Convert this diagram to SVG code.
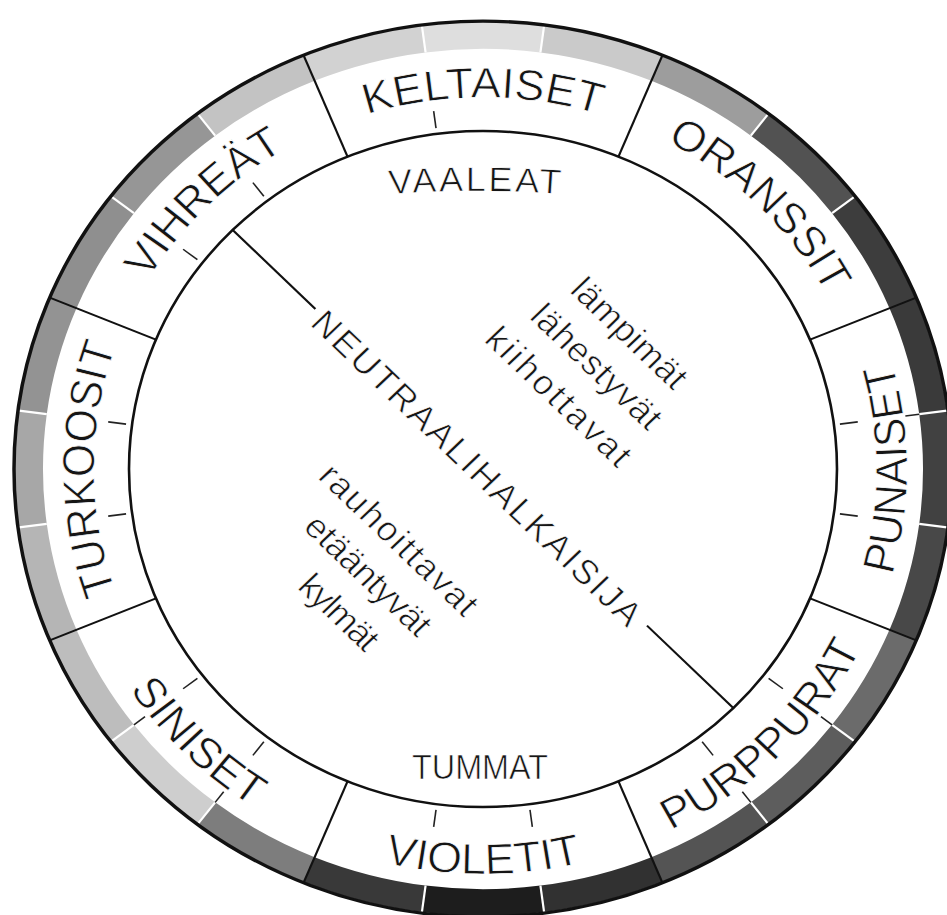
<svg xmlns="http://www.w3.org/2000/svg" width="947" height="915" viewBox="0 0 947 915">
<style>
.seg{fill:none;stroke-width:28}
.gap{stroke:#fff;stroke-width:2.2}
.con{stroke:#111;stroke-width:2.2;fill:none}
.tick{stroke:#222;stroke-width:1.6}
.lbl{font-family:"Liberation Sans",Arial,sans-serif;font-size:45px;fill:#151515;stroke:#fff;stroke-width:0.8px}
.mid{font-family:"Liberation Sans",Arial,sans-serif;font-size:36px;fill:#151515;stroke:#fff;stroke-width:0.7px}
</style>
<defs>
<path id="pKel" d="M-389,0 A389,389 0 0 1 389,0"/>
<path id="pOra" d="M-275.07,-275.07 A389,389 0 0 1 275.07,275.07"/>
<path id="pTur" d="M0,389 A389,389 0 0 1 0,-389"/>
<path id="pVih" d="M-275.07,275.07 A389,389 0 0 1 275.07,-275.07"/>
<path id="pPun" d="M0,424 A424,424 0 0 0 0,-424"/>
<path id="pPur" d="M-299.81,299.81 A424,424 0 0 0 299.81,-299.81"/>
<path id="pVio" d="M-424,0 A424,424 0 0 0 424,0"/>
<path id="pSin" d="M-299.81,-299.81 A424,424 0 0 0 299.81,299.81"/>
<path id="pVaa" d="M-127,-285 Q-7,-297 113,-285"/>
</defs>
<rect width="947" height="915" fill="#fff"/>
<g transform="translate(483,469) scale(1,0.955)">
<g id="sector-keltaiset">
<path class="seg" stroke="#d2d2d2" d="M-173.74,-419.44 A454,454 0 0 1 -59.26,-450.12"/>
<path class="seg" stroke="#dedede" d="M-59.26,-450.12 A454,454 0 0 1 59.26,-450.12"/>
<path class="seg" stroke="#cacaca" d="M59.26,-450.12 A454,454 0 0 1 173.74,-419.44"/>
<line class="gap" x1="-57.43" y1="-436.24" x2="-61.09" y2="-464"/>
<line class="gap" x1="57.43" y1="-436.24" x2="61.09" y2="-464"/>
<line class="tick" x1="-46.99" y1="-356.92" x2="-49.34" y2="-374.77"/>
<text class="lbl"><textPath href="#pKel" startOffset="50%" text-anchor="middle">KELTAISET</textPath></text>
</g>
<g id="sector-oranssit">
<path class="seg" stroke="#9d9d9d" d="M173.74,-419.44 A454,454 0 0 1 276.38,-360.18"/>
<path class="seg" stroke="#525252" d="M276.38,-360.18 A454,454 0 0 1 360.18,-276.38"/>
<path class="seg" stroke="#3d3d3d" d="M360.18,-276.38 A454,454 0 0 1 419.44,-173.74"/>
<line class="gap" x1="267.85" y1="-349.08" x2="284.9" y2="-371.29"/>
<line class="gap" x1="349.08" y1="-267.85" x2="371.29" y2="-284.9"/>
<text class="lbl"><textPath href="#pOra" startOffset="50%" text-anchor="middle">ORANSSIT</textPath></text>
</g>
<g id="sector-punaiset">
<path class="seg" stroke="#3a3a3a" d="M419.44,-173.74 A454,454 0 0 1 450.12,-59.26"/>
<path class="seg" stroke="#414141" d="M450.12,-59.26 A454,454 0 0 1 450.12,59.26"/>
<path class="seg" stroke="#484848" d="M450.12,59.26 A454,454 0 0 1 419.44,173.74"/>
<line class="gap" x1="436.24" y1="-57.43" x2="464" y2="-61.09"/>
<line class="gap" x1="436.24" y1="57.43" x2="464" y2="61.09"/>
<line class="tick" x1="356.92" y1="-46.99" x2="374.77" y2="-49.34"/>
<line class="tick" x1="356.92" y1="46.99" x2="374.77" y2="49.34"/>
<line class="tick" x1="422.36" y1="-55.6" x2="436.24" y2="-57.43"/>
<text class="lbl"><textPath href="#pPun" startOffset="50%" text-anchor="middle">PUNAISET</textPath></text>
</g>
<g id="sector-purppurat">
<path class="seg" stroke="#6b6b6b" d="M419.44,173.74 A454,454 0 0 1 360.18,276.38"/>
<path class="seg" stroke="#5d5d5d" d="M360.18,276.38 A454,454 0 0 1 276.38,360.18"/>
<path class="seg" stroke="#545454" d="M276.38,360.18 A454,454 0 0 1 173.74,419.44"/>
<line class="gap" x1="349.08" y1="267.85" x2="371.29" y2="284.9"/>
<line class="gap" x1="267.85" y1="349.08" x2="284.9" y2="371.29"/>
<line class="tick" x1="285.61" y1="219.15" x2="299.89" y2="230.11"/>
<line class="tick" x1="219.15" y1="285.61" x2="230.11" y2="299.89"/>
<line class="tick" x1="337.97" y1="259.33" x2="349.08" y2="267.85"/>
<line class="tick" x1="259.33" y1="337.97" x2="267.85" y2="349.08"/>
<text class="lbl"><textPath href="#pPur" startOffset="50%" text-anchor="middle">PURPPURAT</textPath></text>
</g>
<g id="sector-violetit">
<path class="seg" stroke="#313131" d="M173.74,419.44 A454,454 0 0 1 59.26,450.12"/>
<path class="seg" stroke="#1d1d1d" d="M59.26,450.12 A454,454 0 0 1 -59.26,450.12"/>
<path class="seg" stroke="#393939" d="M-59.26,450.12 A454,454 0 0 1 -173.74,419.44"/>
<line class="gap" x1="57.43" y1="436.24" x2="61.09" y2="464"/>
<line class="gap" x1="-57.43" y1="436.24" x2="-61.09" y2="464"/>
<line class="tick" x1="46.99" y1="356.92" x2="49.34" y2="374.77"/>
<line class="tick" x1="-46.99" y1="356.92" x2="-49.34" y2="374.77"/>
<text class="lbl"><textPath href="#pVio" startOffset="50%" text-anchor="middle">VIOLETIT</textPath></text>
</g>
<g id="sector-siniset">
<path class="seg" stroke="#7d7d7d" d="M-173.74,419.44 A454,454 0 0 1 -276.38,360.18"/>
<path class="seg" stroke="#cecece" d="M-276.38,360.18 A454,454 0 0 1 -360.18,276.38"/>
<path class="seg" stroke="#bdbdbd" d="M-360.18,276.38 A454,454 0 0 1 -419.44,173.74"/>
<line class="gap" x1="-267.85" y1="349.08" x2="-284.9" y2="371.29"/>
<line class="gap" x1="-349.08" y1="267.85" x2="-371.29" y2="284.9"/>
<line class="tick" x1="-219.15" y1="285.61" x2="-230.11" y2="299.89"/>
<line class="tick" x1="-285.61" y1="219.15" x2="-299.89" y2="230.11"/>
<line class="tick" x1="-259.33" y1="337.97" x2="-267.85" y2="349.08"/>
<line class="tick" x1="-337.97" y1="259.33" x2="-349.08" y2="267.85"/>
<text class="lbl"><textPath href="#pSin" startOffset="50%" text-anchor="middle">SINISET</textPath></text>
</g>
<g id="sector-turkoosit">
<path class="seg" stroke="#b5b5b5" d="M-419.44,173.74 A454,454 0 0 1 -450.12,59.26"/>
<path class="seg" stroke="#a7a7a7" d="M-450.12,59.26 A454,454 0 0 1 -450.12,-59.26"/>
<path class="seg" stroke="#939393" d="M-450.12,-59.26 A454,454 0 0 1 -419.44,-173.74"/>
<line class="gap" x1="-436.24" y1="57.43" x2="-464" y2="61.09"/>
<line class="gap" x1="-436.24" y1="-57.43" x2="-464" y2="-61.09"/>
<line class="tick" x1="-356.92" y1="46.99" x2="-374.77" y2="49.34"/>
<line class="tick" x1="-356.92" y1="-46.99" x2="-374.77" y2="-49.34"/>
<text class="lbl"><textPath href="#pTur" startOffset="50%" text-anchor="middle">TURKOOSIT</textPath></text>
</g>
<g id="sector-vihreat">
<path class="seg" stroke="#8f8f8f" d="M-419.44,-173.74 A454,454 0 0 1 -360.18,-276.38"/>
<path class="seg" stroke="#969696" d="M-360.18,-276.38 A454,454 0 0 1 -276.38,-360.18"/>
<path class="seg" stroke="#c3c3c3" d="M-276.38,-360.18 A454,454 0 0 1 -173.74,-419.44"/>
<line class="gap" x1="-349.08" y1="-267.85" x2="-371.29" y2="-284.9"/>
<line class="gap" x1="-267.85" y1="-349.08" x2="-284.9" y2="-371.29"/>
<line class="tick" x1="-285.61" y1="-219.15" x2="-299.89" y2="-230.11"/>
<line class="tick" x1="-219.15" y1="-285.61" x2="-230.11" y2="-299.89"/>
<text class="lbl"><textPath href="#pVih" startOffset="50%" text-anchor="middle">VIHREÄT</textPath></text>
</g>
<g id="frame">
<circle r="469" fill="none" stroke="#111" stroke-width="3.5"/>
<circle r="354" fill="none" stroke="#111" stroke-width="2.6"/>
</g>
<g id="connectors">
<line class="con" x1="135.47" y1="-327.05" x2="179.48" y2="-433.3"/>
<line class="con" x1="327.05" y1="-135.47" x2="433.3" y2="-179.48"/>
<line class="con" x1="327.05" y1="135.47" x2="433.3" y2="179.48"/>
<line class="con" x1="135.47" y1="327.05" x2="179.48" y2="433.3"/>
<line class="con" x1="-135.47" y1="327.05" x2="-179.48" y2="433.3"/>
<line class="con" x1="-327.05" y1="135.47" x2="-433.3" y2="179.48"/>
<line class="con" x1="-327.05" y1="-135.47" x2="-433.3" y2="-179.48"/>
<line class="con" x1="-135.47" y1="-327.05" x2="-179.48" y2="-433.3"/>
<line class="con" x1="-250.3" y1="-250.3" x2="-167.6" y2="-167.6"/>
<line class="con" x1="164" y1="164" x2="250.3" y2="250.3"/>
</g>
<g id="vaaleat">
<text class="mid"><textPath href="#pVaa" startOffset="50%" text-anchor="middle" letter-spacing="2.5">VAALEAT</textPath></text>
</g>
<g id="tummat">
<text class="mid" x="-71" y="325" font-size="39" textLength="136" lengthAdjust="spacingAndGlyphs">TUMMAT</text>
</g>
<g id="neutraalihalkaisija" transform="rotate(45)">
<text class="mid" x="-230" y="16" textLength="450">NEUTRAALIHALKAISIJA</text>
</g>
<g id="lammin" transform="rotate(45)">
<text class="mid" x="-71" y="-192" textLength="148">lämpimät</text>
<text class="mid" x="-80" y="-144" textLength="169">lähestyvät</text>
<text class="mid" x="-95" y="-95" textLength="190">kiihottavat</text>
</g>
<g id="kylma" transform="rotate(45)">
<text class="mid" x="-111" y="124" textLength="208">rauhoittavat</text>
<text class="mid" x="-84" y="172" textLength="163">etääntyvät</text>
<text class="mid" x="-44" y="220" textLength="97">kylmät</text>
</g>
</g>
</svg>
